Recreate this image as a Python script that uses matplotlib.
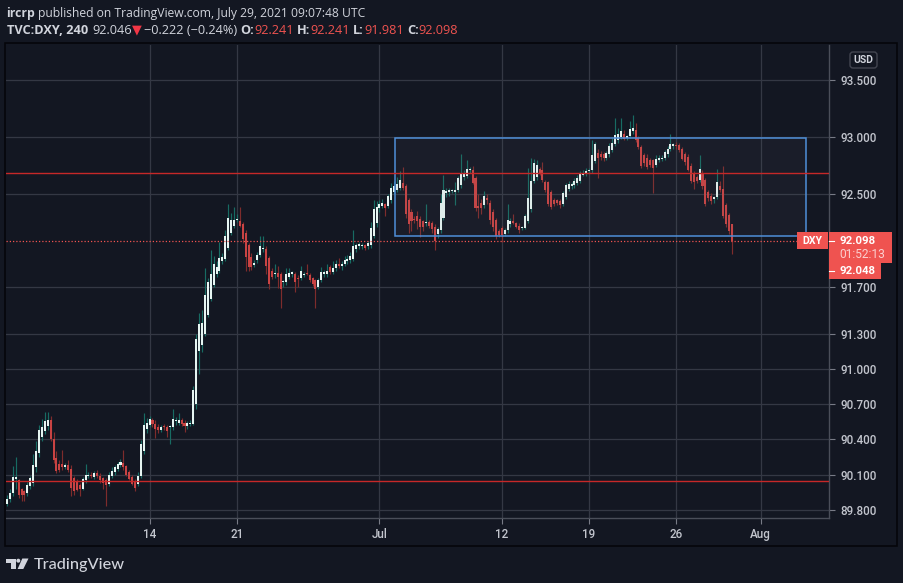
import matplotlib
matplotlib.use('Agg')
import matplotlib.pyplot as plt
import numpy as np
from matplotlib.patches import Rectangle, Polygon, Circle, FancyBboxPatch
from matplotlib.transforms import IdentityTransform
from matplotlib.ticker import FixedLocator, FixedFormatter, NullLocator, NullFormatter

# ---------------- data (TVC:DXY, 4h candles) ----------------
opens = [
    89.85, 89.89, 89.94, 90.06, 90.05, 89.98, 89.96, 89.94, 90.00, 90.03, 90.16, 90.28, 90.42, 90.47, 90.51, 90.56,
    90.40, 90.24, 90.19, 90.19, 90.16, 90.18, 90.15, 90.07, 90.04, 90.01, 89.98, 90.05, 90.09, 90.10, 90.08, 90.11,
    90.09, 90.07, 90.05, 90.02, 90.09, 90.12, 90.15, 90.18, 90.20, 90.17, 90.12, 90.08, 90.04, 90.02, 90.09, 90.30, 90.49,
    90.52, 90.56, 90.53, 90.50, 90.48, 90.51, 90.50, 90.50, 90.50, 90.55, 90.54, 90.56, 90.54, 90.51, 90.53, 90.53,
    90.70, 91.15, 91.20, 91.30, 91.46, 91.60, 91.72, 91.81, 91.84, 91.92, 91.94, 92.04, 92.17, 92.23,
    92.28, 92.27, 92.24, 92.17, 92.06, 91.96, 91.89, 91.93, 91.98, 92.03, 92.03, 91.95, 91.84, 91.81, 91.82, 91.81,
    91.74, 91.74, 91.79, 91.81, 91.81, 91.78, 91.78, 91.80, 91.82, 91.80, 91.78, 91.76, 91.70, 91.76, 91.81, 91.81,
    91.87, 91.83, 91.86, 91.90, 91.88, 91.90, 91.92, 91.93, 91.94, 92.03, 92.05, 92.05, 92.06, 92.05, 92.06, 92.14, 92.25,
    92.38, 92.40, 92.42, 92.40, 92.45, 92.52, 92.54, 92.56, 92.60, 92.57, 92.45, 92.35, 92.29, 92.31, 92.29, 92.27,
    92.25, 92.26, 92.25, 92.22, 92.16, 92.19, 92.30, 92.51, 92.52, 92.53, 92.52, 92.54, 92.58, 92.65, 92.66, 92.71,
    92.71, 92.64, 92.40, 92.43, 92.41, 92.47, 92.43, 92.35, 92.28, 92.18,
    92.21, 92.16, 92.19, 92.24, 92.27, 92.25, 92.23, 92.21, 92.21, 92.27, 92.37, 92.62, 92.65, 92.72, 92.71, 92.61,
    92.61, 92.52, 92.45, 92.45, 92.44, 92.42, 92.48, 92.55, 92.57, 92.58, 92.60, 92.62, 92.67, 92.68,
    92.70, 92.71, 92.79, 92.86, 92.85, 92.85, 92.82, 92.85, 92.89, 92.94, 92.97, 93.00, 93.03, 92.99, 93.01, 93.05,
    93.06, 92.99, 92.91, 92.84, 92.82, 92.80, 92.80, 92.76, 92.80, 92.81, 92.82, 92.85, 92.90, 92.92,
    92.93, 92.93, 92.90, 92.85, 92.83, 92.75, 92.68, 92.65, 92.63, 92.69, 92.63, 92.52, 92.49, 92.46, 92.48, 92.57,
    92.55, 92.41, 92.32, 92.241,
]
highs = [
    89.93, 89.98, 90.17, 90.25, 90.06, 89.99, 89.97, 90.04, 90.09, 90.27, 90.38, 90.52, 90.57, 90.63, 90.63, 90.60,
    90.46, 90.30, 90.22, 90.31, 90.20, 90.22, 90.18, 90.09, 90.06, 90.03, 90.08, 90.19, 90.12, 90.12, 90.13, 90.14,
    90.11, 90.08, 90.07, 90.12, 90.16, 90.18, 90.21, 90.23, 90.31, 90.18, 90.14, 90.10, 90.06, 90.12, 90.39, 90.62, 90.58,
    90.60, 90.58, 90.56, 90.53, 90.52, 90.53, 90.52, 90.52, 90.66, 90.59, 90.62, 90.58, 90.56, 90.55, 90.56, 90.85,
    91.30, 91.48, 91.50, 91.86, 91.78, 92.02, 91.97, 91.92, 92.09, 91.99, 92.19, 92.42, 92.34, 92.39,
    92.33, 92.39, 92.26, 92.19, 92.08, 91.99, 91.93, 92.00, 92.14, 92.14, 92.05, 91.97, 91.86, 91.90, 91.88, 91.83,
    91.76, 91.86, 91.86, 91.84, 91.83, 91.80, 91.88, 91.83, 91.90, 91.82, 91.79, 91.77, 91.78, 91.87, 91.85, 91.90,
    91.89, 91.92, 91.93, 91.95, 91.92, 91.97, 91.98, 92.00, 92.19, 92.08, 92.09, 92.08, 92.07, 92.10, 92.26, 92.45, 92.44,
    92.45, 92.46, 92.43, 92.50, 92.60, 92.62, 92.65, 92.70, 92.74, 92.59, 92.47, 92.37, 92.31, 92.36, 92.31, 92.28,
    92.42, 92.28, 92.27, 92.24, 92.22, 92.50, 92.67, 92.56, 92.56, 92.55, 92.61, 92.66, 92.85, 92.71, 92.80, 92.74,
    92.75, 92.66, 92.50, 92.46, 92.53, 92.50, 92.45, 92.37, 92.30, 92.20,
    92.23, 92.21, 92.42, 92.30, 92.33, 92.26, 92.25, 92.23, 92.33, 92.73, 92.82, 92.81, 92.80, 92.74, 92.78, 92.63,
    92.62, 92.54, 92.47, 92.46, 92.46, 92.53, 92.60, 92.62, 92.61, 92.64, 92.67, 92.70, 92.71, 92.73,
    92.73, 92.97, 92.96, 92.90, 92.88, 92.87, 92.88, 92.95, 92.99, 93.17, 93.08, 93.17, 93.06, 93.02, 93.14, 93.19,
    93.12, 93.01, 92.93, 92.86, 92.85, 92.82, 92.81, 92.84, 92.84, 92.84, 92.89, 92.92, 93.03, 92.95,
    92.96, 92.95, 92.91, 92.87, 92.85, 92.77, 92.70, 92.67, 92.84, 92.71, 92.64, 92.54, 92.51, 92.49, 92.72, 92.62,
    92.75, 92.43, 92.34, 92.241,
]
lows = [
    89.83, 89.87, 89.92, 89.98, 89.90, 89.88, 89.88, 89.92, 89.98, 90.00, 90.12, 90.25, 90.38, 90.44, 90.48, 90.38,
    90.20, 90.11, 90.12, 90.14, 90.15, 90.12, 89.92, 89.93, 89.96, 89.92, 89.97, 90.03, 90.07, 90.07, 90.06, 90.07,
    90.03, 89.98, 89.83, 90.00, 90.07, 90.10, 90.13, 90.16, 90.14, 90.09, 90.05, 90.01, 89.96, 90.00, 90.07, 90.27, 90.45,
    90.50, 90.50, 90.41, 90.45, 90.46, 90.48, 90.42, 90.36, 90.48, 90.52, 90.52, 90.51, 90.46, 90.49, 90.51, 90.52,
    90.66, 90.95, 91.14, 91.28, 91.44, 91.58, 91.70, 91.79, 91.82, 91.90, 91.92, 92.02, 92.15, 92.21,
    92.26, 92.22, 92.08, 91.84, 91.84, 91.85, 91.87, 91.91, 91.96, 92.00, 91.81, 91.68, 91.77, 91.78, 91.69, 91.52,
    91.70, 91.72, 91.77, 91.79, 91.66, 91.70, 91.76, 91.79, 91.80, 91.74, 91.71, 91.52, 91.68, 91.74, 91.79, 91.79,
    91.81, 91.81, 91.84, 91.86, 91.85, 91.88, 91.90, 91.91, 91.92, 92.00, 92.03, 92.03, 92.02, 92.03, 92.04, 92.12, 92.22,
    92.35, 92.38, 92.31, 92.38, 92.43, 92.50, 92.52, 92.54, 92.54, 92.30, 92.17, 92.18, 92.25, 92.20, 92.13, 92.18,
    92.23, 92.21, 92.17, 92.02, 92.12, 92.17, 92.28, 92.48, 92.49, 92.51, 92.41, 92.52, 92.56, 92.63, 92.64, 92.69,
    92.59, 92.36, 92.30, 92.33, 92.38, 92.42, 92.24, 92.18, 92.11, 92.13,
    92.09, 92.14, 92.17, 92.22, 92.24, 92.21, 92.17, 92.19, 92.20, 92.25, 92.35, 92.60, 92.63, 92.67, 92.61, 92.52,
    92.40, 92.37, 92.40, 92.41, 92.38, 92.40, 92.46, 92.53, 92.55, 92.56, 92.58, 92.60, 92.66, 92.66,
    92.69, 92.69, 92.77, 92.64, 92.80, 92.79, 92.80, 92.83, 92.87, 92.92, 92.95, 92.98, 92.97, 92.97, 92.99, 93.03,
    92.96, 92.90, 92.73, 92.75, 92.72, 92.74, 92.51, 92.74, 92.78, 92.79, 92.80, 92.83, 92.88, 92.90,
    92.90, 92.87, 92.80, 92.76, 92.70, 92.60, 92.55, 92.60, 92.61, 92.55, 92.40, 92.44, 92.42, 92.43, 92.46, 92.52,
    92.30, 92.22, 92.16, 91.981,
]
closes = [
    89.89, 89.94, 90.08, 90.08, 89.93, 89.93, 89.93, 90.01, 90.07, 90.18, 90.30, 90.48, 90.50, 90.55, 90.56, 90.40,
    90.22, 90.13, 90.14, 90.16, 90.18, 90.14, 89.99, 89.96, 89.97, 89.98, 90.06, 90.10, 90.10, 90.09, 90.11, 90.09,
    90.05, 90.03, 90.01, 90.10, 90.13, 90.16, 90.19, 90.21, 90.16, 90.10, 90.06, 90.02, 89.99, 90.09, 90.36, 90.52, 90.54,
    90.57, 90.53, 90.49, 90.48, 90.50, 90.50, 90.47, 90.51, 90.57, 90.56, 90.56, 90.53, 90.51, 90.54, 90.54, 90.82,
    91.25, 91.38, 91.39, 91.63, 91.74, 91.81, 91.90, 91.87, 91.95, 91.96, 92.14, 92.30, 92.28, 92.28,
    92.29, 92.23, 92.11, 91.96, 91.87, 91.87, 91.91, 91.98, 92.05, 92.04, 91.88, 91.73, 91.79, 91.82, 91.79, 91.68,
    91.75, 91.81, 91.82, 91.83, 91.74, 91.77, 91.84, 91.81, 91.81, 91.76, 91.73, 91.68, 91.76, 91.83, 91.83, 91.84,
    91.83, 91.86, 91.90, 91.88, 91.90, 91.93, 91.94, 91.97, 92.05, 92.06, 92.07, 92.06, 92.04, 92.08, 92.21, 92.37, 92.39,
    92.42, 92.43, 92.38, 92.49, 92.56, 92.57, 92.59, 92.63, 92.56, 92.33, 92.24, 92.27, 92.28, 92.27, 92.22, 92.22,
    92.26, 92.23, 92.20, 92.10, 92.20, 92.43, 92.54, 92.53, 92.54, 92.53, 92.54, 92.64, 92.68, 92.68, 92.72, 92.71,
    92.60, 92.38, 92.38, 92.38, 92.49, 92.45, 92.28, 92.22, 92.14, 92.15,
    92.15, 92.19, 92.28, 92.27, 92.25, 92.22, 92.19, 92.21, 92.31, 92.47, 92.62, 92.77, 92.76, 92.68, 92.63, 92.54,
    92.42, 92.39, 92.42, 92.43, 92.41, 92.51, 92.58, 92.59, 92.59, 92.62, 92.64, 92.69, 92.69, 92.70,
    92.71, 92.84, 92.94, 92.82, 92.83, 92.82, 92.86, 92.92, 92.95, 93.02, 93.03, 93.05, 92.98, 93.01, 93.07, 93.08,
    92.97, 92.91, 92.75, 92.77, 92.74, 92.76, 92.73, 92.81, 92.82, 92.82, 92.87, 92.90, 92.94, 92.94,
    92.92, 92.89, 92.81, 92.78, 92.71, 92.62, 92.61, 92.62, 92.72, 92.57, 92.42, 92.47, 92.44, 92.48, 92.61, 92.54,
    92.31, 92.24, 92.18, 92.098,
]

time_tick_bars = [49, 79, 128, 170, 200, 230, 259]
time_tick_labels = ['14', '21', 'Jul', '12', '19', '26', 'Aug']
price_ticks = [89.8, 90.1, 90.4, 90.7, 91.0, 91.3, 91.7, 92.5, 93.0, 93.5]
price_tick_labels = ['89.800', '90.100', '90.400', '90.700', '91.000', '91.300',
                     '91.700', '92.500', '93.000', '93.500']

resistance_level = 92.69
support_level = 90.045
last_price = 92.098
range_box_bars = (133.3, 274.5)
range_box_prices = (92.14, 92.99)

# ---------------- style ----------------
W, H = 904, 583
BG = '#131722'
TXT = '#d1d4dc'
AXT = '#c3c6ce'
GRID = '#343844'
RED = '#ef5350'
UP_BODY = '#e6f5f2'
UP_WICK = '#176b63'
DN_BODY = '#c94343'
DN_WICK = '#7e2c2c'
AXFONT = ['Roboto', 'DejaVu Sans']
HDFONT = ['Open Sans', 'DejaVu Sans']
plt.rcParams['font.family'] = AXFONT

fig = plt.figure(figsize=(W / 100, H / 100), dpi=100, facecolor=BG)
renderer = fig.canvas.get_renderer()
ID = IdentityTransform()


def measure(s, size, weight, family):
    t = fig.text(0, 0, s, fontsize=size, fontweight=weight, family=family)
    w = t.get_window_extent(renderer).width
    t.remove()
    return w


def fit_size(s, width, weight, family):
    return 10 * width / measure(s, 10, weight, family)


def draw_line(x0, x1, yc, pieces, family):
    base = 10
    sp = measure('a a', base, 'normal', family) - measure('aa', base, 'normal', family)
    tot = sum(measure(s, base, wt, family) + g * sp for s, col, wt, g in pieces)
    size = base * (x1 - x0) / tot
    scale = size / base
    xx = x0
    for s, col, wt, g in pieces:
        xx += g * sp * scale
        t = fig.text(xx, H - yc, s, transform=ID, fontsize=size, fontweight=wt,
                     color=col, family=family, va='center', ha='left')
        xx += t.get_window_extent(renderer).width


# ---------------- main axes ----------------
BAR_PX = 2.91
ax = fig.add_axes([6 / W, 1 - 518 / H, 823 / W, 473 / H])
ax.set_facecolor(BG)
ax.set_xlim(-1 / BAR_PX, -1 / BAR_PX + 823 / BAR_PX)
ax.set_yscale('log')
ax.set_ylim(89.733, 93.807)

o = np.array(opens); hi = np.array(highs); lo = np.array(lows); c = np.array(closes)
xs = np.arange(len(c))
up = c >= o
ax.vlines(xs[up], lo[up], hi[up], colors=UP_WICK, lw=0.85, zorder=3)
ax.vlines(xs[~up], lo[~up], hi[~up], colors=DN_WICK, lw=0.85, zorder=3)
b_lo = np.minimum(o, c)
b_hi = np.maximum(np.maximum(o, c), b_lo * 1.00011)
ax.bar(xs[up], (b_hi - b_lo)[up], bottom=b_lo[up], width=0.7, color=UP_BODY, lw=0, zorder=4)
ax.bar(xs[~up], (b_hi - b_lo)[~up], bottom=b_lo[~up], width=0.7, color=DN_BODY, lw=0, zorder=4)

# drawings
ax.add_patch(Rectangle((range_box_bars[0], range_box_prices[0]),
                       range_box_bars[1] - range_box_bars[0],
                       range_box_prices[1] - range_box_prices[0],
                       fc=(0.47, 0.48, 0.53, 0.07), ec='#4f8fd8', lw=1.1, zorder=5))
ax.axhline(resistance_level, color='#c62828', lw=1.0, zorder=5)
ax.axhline(support_level, color='#c62828', lw=1.0, zorder=5)
ax.axhline(last_price, color=RED, lw=0.9, ls=(0, (1, 1.6)), zorder=6)

# grid & ticks
ax.yaxis.set_major_locator(FixedLocator(price_ticks))
ax.yaxis.set_major_formatter(FixedFormatter(price_tick_labels))
ax.yaxis.set_minor_locator(NullLocator())
ax.yaxis.set_minor_formatter(NullFormatter())
ax.set_xticks(time_tick_bars)
ax.set_xticklabels(time_tick_labels)
ax.yaxis.tick_right()
ax.grid(True, color=GRID, lw=0.9, zorder=0)
ax.set_axisbelow(True)
fs_ax = fit_size('93.500', 36, 'medium', AXFONT)
ax.tick_params(axis='y', which='major', length=4, width=0.8, color='#787b86',
               pad=4.5, labelcolor=AXT, labelsize=fs_ax)
ax.tick_params(axis='x', which='major', length=4, width=0.8, color='#787b86',
               pad=3.5, labelcolor=AXT, labelsize=fs_ax)
for lbl in ax.get_yticklabels() + ax.get_xticklabels():
    lbl.set_fontweight('medium')
for s in ['top', 'left']:
    ax.spines[s].set_visible(False)
for s in ['right', 'bottom']:
    ax.spines[s].set_color('#4a4e59')
    ax.spines[s].set_linewidth(1.0)

# ---------------- outer frame ----------------
fig.add_artist(Rectangle((5, H - 546), 892, 503, transform=ID, fill=False,
                         ec='#05060a', lw=1.2))

# ---------------- header ----------------
draw_line(6, 366, 13, [('ircrp', TXT, 'bold', 0),
                       ('published on TradingView.com, July 29, 2021 09:07:48 UTC', TXT, 'normal', 1)],
          HDFONT)
draw_line(7, 458, 30, [('TVC:DXY, 240', TXT, 'bold', 0),
                       ('92.046', TXT, 'normal', 1.2),
                       ('\u25BC', '#f23645', 'normal', 0.1),
                       ('\u22120.222 (\u22120.24%)', TXT, 'normal', 0.5),
                       ('O:', TXT, 'bold', 1), ('92.241', RED, 'normal', 0),
                       ('H:', TXT, 'bold', 1), ('92.241', RED, 'normal', 0),
                       ('L:', TXT, 'bold', 1), ('91.981', RED, 'normal', 0),
                       ('C:', TXT, 'bold', 1), ('92.098', RED, 'normal', 0)],
          HDFONT)

# ---------------- price-axis labels ----------------
def box(x1, y1, x2, y2, color):
    fig.add_artist(Rectangle((x1, H - y2), x2 - x1, y2 - y1, transform=ID,
                             fc=color, ec='none', zorder=5))

box(797, 232, 828, 249, RED)
fig.text(812.5, H - 240.5, 'DXY', transform=ID, color='white', fontweight='bold',
         fontsize=fit_size('DXY', 20, 'bold', AXFONT), ha='center', va='center', zorder=6)
box(829, 232, 892, 263, RED)
fig.text(839, H - 241, '92.098', transform=ID, color='white', fontweight='bold',
         fontsize=fit_size('92.098', 36, 'bold', AXFONT), ha='left', va='center', zorder=6)
fig.text(839, H - 254.5, '01:52:13', transform=ID, color='#fbd0cf',
         fontsize=fit_size('01:52:13', 46, 'normal', AXFONT), ha='left', va='center', zorder=6)
box(829, 263, 881, 279, RED)
fig.text(839, H - 271.3, '92.048', transform=ID, color='white', fontweight='bold',
         fontsize=fit_size('92.048', 36, 'bold', AXFONT), ha='left', va='center', zorder=6)
for yy in (241, 271):
    fig.add_artist(plt.Line2D([829, 834], [H - yy, H - yy], transform=ID, color='white',
                              lw=0.8, zorder=7))

fig.add_artist(FancyBboxPatch((850, H - 68), 27, 16, boxstyle='round,pad=0,rounding_size=3',
                              transform=ID, fc=BG, ec='#434651', lw=1.0))
fig.text(863.5, H - 60, 'USD', transform=ID, color=TXT, fontweight='bold',
         fontsize=fit_size('USD', 20, 'bold', AXFONT), ha='center', va='center')

# ---------------- TradingView watermark ----------------
LOGO = '#d1d4dc'
fig.add_artist(Polygon([(6, H - 558.5), (15.5, H - 558.5), (15.5, H - 569), (11.3, H - 569),
                        (11.3, H - 563), (6, H - 563)], closed=True, transform=ID, fc=LOGO, ec='none'))
fig.add_artist(Circle((18.3, H - 560.7), 2.0, transform=ID, fc=LOGO, ec='none'))
fig.add_artist(Polygon([(22.3, H - 558.5), (28.5, H - 558.5), (23.3, H - 569), (17.6, H - 569)],
                       closed=True, transform=ID, fc=LOGO, ec='none'))
fig.text(34, H - 564.5, 'TradingView', transform=ID, color=LOGO, fontweight='medium',
         fontsize=fit_size('TradingView', 91, 'medium', ['Lato', 'DejaVu Sans']),
         family=['Lato', 'DejaVu Sans'], ha='left', va='center')

fig.savefig('out.png', dpi=100, facecolor=BG)
